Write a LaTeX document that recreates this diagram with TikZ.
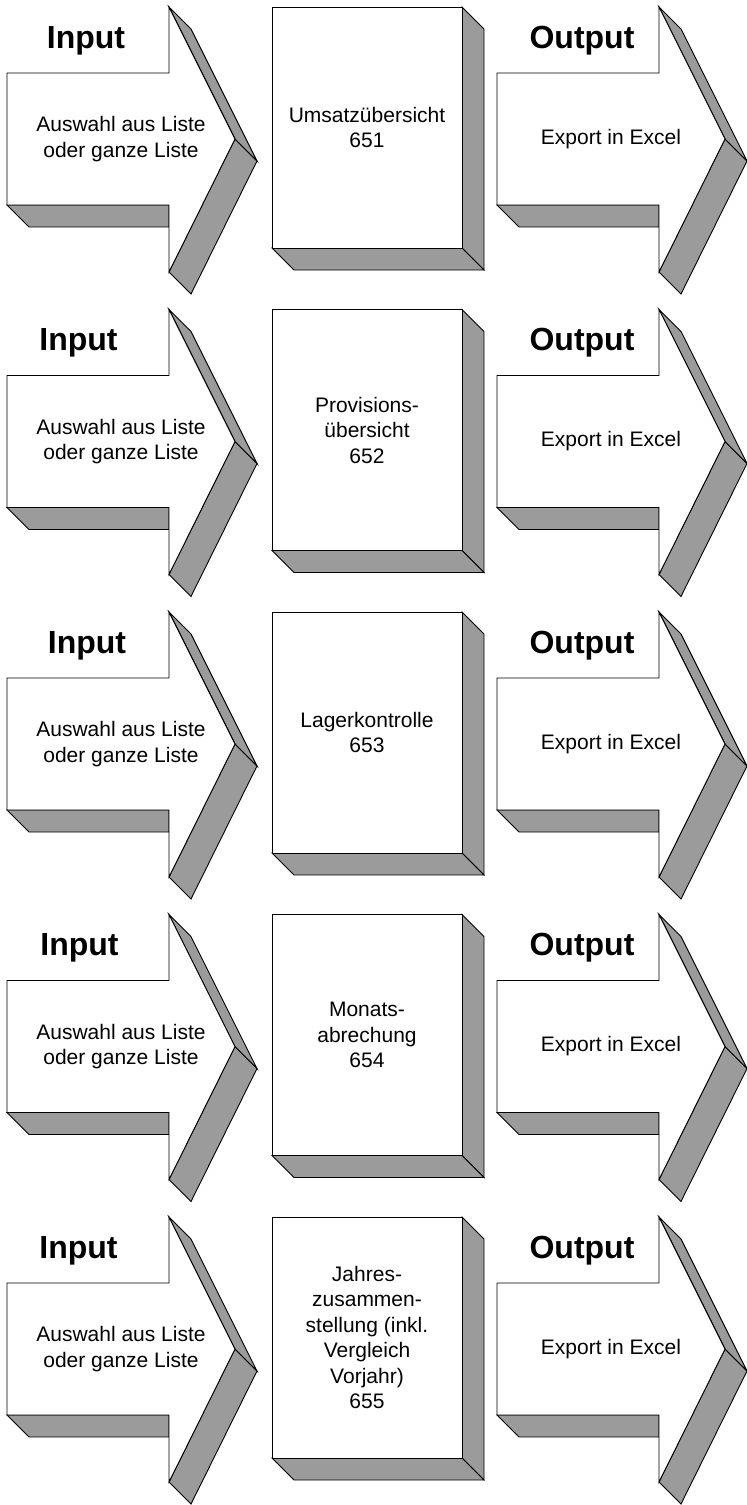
\documentclass[tikz,border=0pt]{standalone}
\usepackage{fontspec}
\setmainfont{Liberation Sans}
\usetikzlibrary{positioning}

\definecolor{sidegray}{RGB}{155,155,155}

\begin{document}
\begin{tikzpicture}[
    x=1pt, y=-1pt,
    % Define face styles
    front/.style={draw=black, fill=white, line width=0.9pt},
    side/.style={draw=black, fill=sidegray, line width=0.9pt},
    title/.style={font=\fontsize{32}{38}\selectfont\bfseries, anchor=base, inner sep=0pt},
    desc/.style={font=\fontsize{21}{25.5}\selectfont, align=center, inner sep=0pt}
]

% Define extrusion depth and page size
\def\ext{22}
\useasboundingbox (0,0) rectangle (747,1505);

\foreach \y/\ix/\proc [count=\r] in {
    7/86/{Umsatzübersicht\\651},
    309.5/78.5/{Provisions-\\übersicht\\652},
    612/87/{Lagerkontrolle\\653},
    914.5/79.5/{Monats-\\abrechung\\654},
    1217/78.5/{Jahres-\\zusammen-\\stellung (inkl.\\Vergleich\\Vorjahr)\\655}} {

  % Input and output arrows
  \foreach \ax in {7,497} {
    \draw[side] (\ax,\y+198) -- (\ax+\ext,\y+198+\ext) -- (\ax+162,\y+198+\ext) -- (\ax+162,\y+198) -- cycle;
    \draw[side] (\ax+228,\y+132) -- (\ax+228+\ext,\y+132+\ext) -- (\ax+162+\ext,\y+265+\ext) -- (\ax+162,\y+265) -- cycle;
    \draw[side] (\ax+162,\y) -- (\ax+162+\ext,\y+\ext) -- (\ax+228+\ext,\y+132+\ext) -- (\ax+228,\y+132) -- cycle;
    \draw[front] (\ax,\y+66) -- (\ax+162,\y+66) -- (\ax+162,\y) -- (\ax+228,\y+132)
      -- (\ax+162,\y+265) -- (\ax+162,\y+198) -- (\ax,\y+198) -- cycle;
  }

  % Process box
  \draw[side] (462,\y) -- (462+\ext,\y+\ext) -- (462+\ext,\y+241+\ext) -- (462,\y+241) -- cycle;
  \draw[side] (272,\y+241) -- (272+\ext,\y+241+\ext) -- (462+\ext,\y+241+\ext) -- (462,\y+241) -- cycle;
  \draw[front] (272,\y) rectangle (462,\y+241);

  % Labels
  \node[title] (in-\r) at (\ix,\y+41) {Input};
  \node[desc] (in-desc-\r) at (7+114,\y+132) {Auswahl aus Liste\\oder ganze Liste};
  \node[desc] (proc-\r) at (367,\y+120.5) {\proc};
  \node[title] (out-\r) at (582,\y+41) {Output};
  \node[desc] (out-desc-\r) at (497+114,\y+132) {Export in Excel};
}

\end{tikzpicture}
\end{document}
